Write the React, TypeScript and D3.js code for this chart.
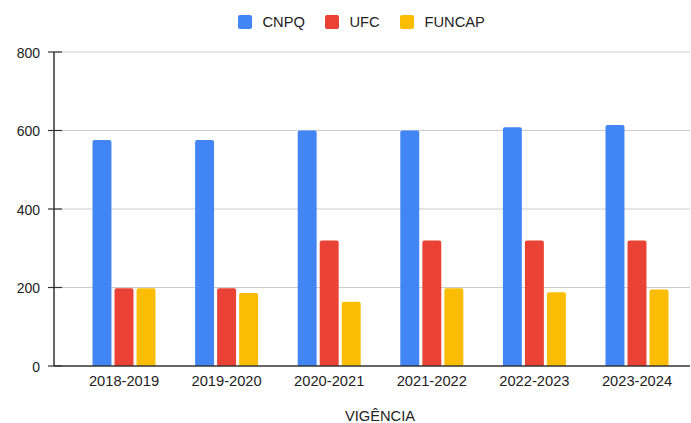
import React, { useEffect, useRef } from "react";
import * as d3 from "d3";

const periods = ["2018-2019", "2019-2020", "2020-2021", "2021-2022", "2022-2023", "2023-2024"];
const seriesNames = ["CNPQ", "UFC", "FUNCAP"];
const cnpq = [576, 576, 600, 600, 608, 614];
const ufc = [198, 198, 320, 320, 320, 320];
const funcap = [198, 186, 164, 198, 188, 195];
const yTicks = [0, 200, 400, 600, 800];
const colors = ["#4285F4", "#EA4335", "#FBBC04"];

const FONT = "Arial, 'Liberation Sans', sans-serif";

function roundTopBar(x: number, y: number, w: number, h: number, r: number) {
    const rr = Math.min(r, h / 2, w / 2);
    return `M${x},${y + h}V${y + rr}Q${x},${y} ${x + rr},${y}H${x + w - rr}Q${x + w},${y} ${x + w},${y + rr}V${y + h}Z`;
}

export default function App() {
    const ref = useRef<SVGSVGElement>(null);

    useEffect(() => {
        const svg = d3.select(ref.current);
        svg.selectAll("*").remove();

        const axisX = 54, plotRight = 690;
        const top = 52, bottom = 366;

        const values = [cnpq, ufc, funcap];
        const rows = periods.map((p, i) => ({ period: p, vals: values.map(v => v[i]) }));

        const x = d3.scaleBand().domain(periods).range([72.7, 688.3]).paddingInner(0.386).paddingOuter(0.193);
        const xs = d3.scaleBand().domain(seriesNames).range([0, x.bandwidth()]).paddingInner(0.14);
        const y = d3.scaleLinear().domain([0, 800]).range([bottom, top]);

        // grid
        svg.append("g")
            .selectAll("line")
            .data(yTicks.filter(t => t > 0))
            .join("line")
            .attr("x1", axisX).attr("x2", plotRight)
            .attr("y1", d => y(d)).attr("y2", d => y(d))
            .attr("stroke", "#cccccc").attr("stroke-width", 1);

        // bars
        const g = svg.append("g")
            .selectAll("g")
            .data(rows)
            .join("g")
            .attr("transform", d => `translate(${x(d.period)},0)`);
        g.selectAll("path")
            .data(d => d.vals.map((v, i) => ({ name: seriesNames[i], v, i })))
            .join("path")
            .attr("d", d => roundTopBar(xs(d.name)!, y(d.v), xs.bandwidth(), bottom - y(d.v), 2))
            .attr("fill", d => colors[d.i]);

        // axes
        svg.append("line")
            .attr("x1", axisX).attr("x2", axisX).attr("y1", top).attr("y2", bottom)
            .attr("stroke", "#333").attr("stroke-width", 1.5);
        svg.append("line")
            .attr("x1", axisX).attr("x2", plotRight).attr("y1", bottom).attr("y2", bottom)
            .attr("stroke", "#333").attr("stroke-width", 1.5);
        svg.append("g")
            .selectAll("line")
            .data(yTicks)
            .join("line")
            .attr("x1", 48).attr("x2", 62)
            .attr("y1", d => y(d)).attr("y2", d => y(d))
            .attr("stroke", "#333").attr("stroke-width", 1.2);
        svg.append("g")
            .selectAll("text")
            .data(yTicks)
            .join("text")
            .attr("x", 40).attr("y", d => y(d) + 0.7)
            .attr("dy", "0.35em")
            .attr("text-anchor", "end")
            .attr("font-family", FONT).attr("font-size", 14).attr("fill", "#222")
            .text(d => d);

        svg.append("g")
            .selectAll("text")
            .data(periods)
            .join("text")
            .attr("x", d => x(d)! + x.bandwidth() / 2).attr("y", 386)
            .attr("text-anchor", "middle")
            .attr("font-family", FONT).attr("font-size", 14.7).attr("fill", "#222")
            .text(d => d);

        svg.append("text")
            .attr("x", 380).attr("y", 421)
            .attr("text-anchor", "middle")
            .attr("font-family", FONT).attr("font-size", 14.7).attr("fill", "#222")
            .text("VIGÊNCIA");

        // legend
        const legendX = [238, 325, 400];
        const lg = svg.append("g")
            .selectAll("g")
            .data(seriesNames)
            .join("g")
            .attr("transform", (d, i) => `translate(${legendX[i]},15)`);
        lg.append("rect")
            .attr("width", 14).attr("height", 14).attr("rx", 2)
            .attr("fill", (d, i) => colors[i]);
        lg.append("text")
            .attr("x", 24.5).attr("y", 11.7)
            .attr("font-family", FONT).attr("font-size", 14.7).attr("fill", "#222")
            .text(d => d);
    }, []);

    return (
        <div style={{ position: "absolute", left: 0, top: 0 }}>
            <svg ref={ref} width={691} height={423} style={{ display: "block", background: "#fff" }} />
        </div>
    );
}
